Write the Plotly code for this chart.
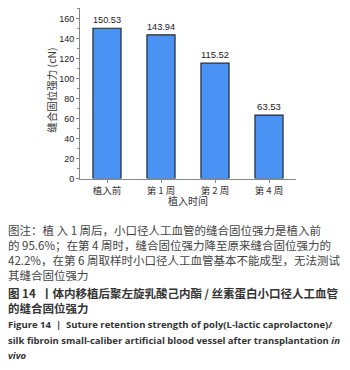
import plotly.graph_objects as go

categories = ["植入前", "第 1 周", "第 2 周", "第 4 周"]
values = [150.53, 143.94, 115.52, 63.53]
value_labels = ["150.53", "143.94", "115.52", "63.53"]
y_ticks = [0, 20, 40, 60, 80, 100, 120, 140, 160]

note_lines = [
    "图注：植\u00a0入\u00a01\u00a0周后，小口径人工血管的缝合固位强力是植入前",
    "的 95.6%；在第 4 周时，缝合固位强力降至原来缝合固位强力的",
    "42.2%，在第 6 周取样时小口径人工血管基本不能成型，无法测试",
    "其缝合固位强力",
]
title_cn_lines = [
    "图 14  丨体内移植后聚左旋乳酸己内酯 / 丝素蛋白小口径人工血管",
    "的缝合固位强力",
]
title_en_lines = [
    "Figure 14  |  Suture retention strength of poly(L-lactic caprolactone)/",
    "silk fibroin small-caliber artificial blood vessel after transplantation <i>in</i>",
    "<i>vivo</i>",
]

W, H = 350, 370
fig = go.Figure()
fig.add_trace(go.Bar(
    x=categories, y=values, width=0.52,
    marker=dict(color="#4a93f5", line=dict(color="#1e2a3a", width=1.2)),
    text=value_labels, textposition="outside",
    textfont=dict(size=9.5, color="#222", family="Liberation Sans"),
    cliponaxis=False,
))

fig.update_layout(
    width=W, height=H, margin=dict(l=0, r=0, t=0, b=0),
    plot_bgcolor="white", paper_bgcolor="white", showlegend=False,
    font=dict(family="Liberation Sans", color="#222"),
    xaxis=dict(
        domain=[80 / W, 296 / W], range=[-0.5, 3.5],
        showline=True, linecolor="#888", linewidth=1,
        ticks="outside", ticklen=3, tickcolor="#888",
        tickfont=dict(size=9.5, family="Noto Sans CJK SC", color="#333"),
        showgrid=False, zeroline=False,
    ),
    yaxis=dict(
        domain=[(H - 181) / H, (H - 8) / H], range=[0, 170.9],
        showline=True, linecolor="#888", linewidth=1,
        ticks="outside", ticklen=3, tickcolor="#888",
        tickvals=y_ticks, tickfont=dict(size=9, color="#222"),
        minor=dict(dtick=10, ticks="outside", ticklen=2, tickcolor="#888"),
        showgrid=False, zeroline=False,
    ),
)

# axis titles
fig.add_annotation(text="植入时间", x=188 / W, y=1 - 203 / H, xref="paper", yref="paper",
                   xanchor="center", yanchor="middle", showarrow=False,
                   font=dict(size=10, family="Noto Sans CJK SC", color="#333"))
fig.add_annotation(text="缝合固位强力 (cN)", x=52 / W, y=1 - 92 / H, xref="paper", yref="paper",
                   xanchor="center", yanchor="middle", showarrow=False, textangle=-90,
                   font=dict(size=10.5, family="Noto Sans CJK SC", color="#333"))

ys = [233, 248, 264, 279]
for t, y in zip(note_lines, ys):
    fig.add_annotation(text=t, x=6 / W, y=1 - y / H, xref="paper", yref="paper",
                       xanchor="left", yanchor="middle", showarrow=False,
                       font=dict(size=11.5, family="Noto Sans CJK SC", color="#444"))
for t, y in zip(title_cn_lines, [297, 312]):
    fig.add_annotation(text="<b>" + t + "</b>", x=6 / W, y=1 - y / H, xref="paper", yref="paper",
                       xanchor="left", yanchor="middle", showarrow=False,
                       font=dict(size=11.5, family="Noto Sans CJK SC", color="#333"))
for t, y in zip(title_en_lines, [329, 345, 360]):
    fig.add_annotation(text="<b>" + t + "</b>", x=6 / W, y=1 - y / H, xref="paper", yref="paper",
                       xanchor="left", yanchor="middle", showarrow=False,
                       font=dict(size=9.5, family="Open Sans", color="#333"))

fig.write_html("out.html", config={"displayModeBar": False},
               post_script="document.body.style.margin='0';")
